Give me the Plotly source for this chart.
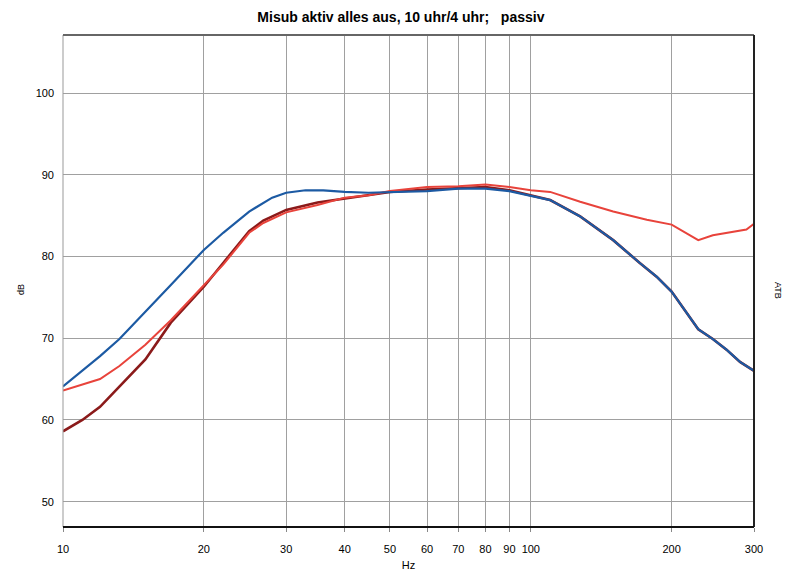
import plotly.graph_objects as go

# Blue curve
blue_f = [10, 11, 12, 13.2, 15, 17, 20, 22, 25, 28, 30, 33, 36, 40, 45, 50, 55, 60, 70, 80, 90, 100, 110, 127.5, 150, 171, 186, 200, 208, 215, 228, 245, 262, 280, 300]
blue_db = [64.1, 66.0, 67.8, 69.9, 73.2, 76.5, 80.8, 82.9, 85.5, 87.2, 87.8, 88.1, 88.1, 87.9, 87.8, 87.9, 87.9, 88.0, 88.3, 88.3, 88.0, 87.4, 86.9, 84.9, 82.0, 79.2, 77.5, 75.7, 74.3, 73.1, 71.1, 69.9, 68.6, 67.1, 66.0]

# Bright red curve
red_f = [10, 11, 12, 13.2, 15, 17, 20, 22, 25, 26.8, 30, 35, 40, 45, 50, 60, 70, 80, 90, 100, 110, 127.5, 150, 177, 200, 208, 228, 245, 271, 289, 300]
red_db = [63.6, 64.3, 65.0, 66.6, 69.2, 72.2, 76.5, 79.0, 82.9, 84.1, 85.4, 86.3, 87.2, 87.5, 88.0, 88.5, 88.6, 88.8, 88.5, 88.1, 87.9, 86.7, 85.5, 84.5, 83.9, 83.3, 82.0, 82.6, 83.0, 83.3, 84.0]

# Dark red curve
dark_f = [10, 11, 12, 13.2, 15, 17, 20, 22, 25, 26.8, 30, 35, 40, 50, 60, 70, 80, 90, 100, 110, 127.5, 150, 171, 186, 200, 208, 215, 228, 245, 262, 280, 300]
dark_db = [58.6, 60.0, 61.6, 64.1, 67.4, 71.9, 76.3, 79.2, 83.1, 84.4, 85.7, 86.6, 87.1, 87.9, 88.2, 88.4, 88.5, 88.1, 87.5, 86.9, 84.9, 82.0, 79.2, 77.5, 75.7, 74.3, 73.1, 71.1, 69.9, 68.6, 67.1, 66.0]

x_ticks = [10, 20, 30, 40, 50, 60, 70, 80, 90, 100, 200, 300]
y_ticks = [50, 60, 70, 80, 90, 100]

fig = go.Figure()
fig.add_trace(go.Scatter(x=dark_f, y=dark_db, mode="lines", line=dict(color="#8B1A1A", width=2.6), showlegend=False))
fig.add_trace(go.Scatter(x=red_f, y=red_db, mode="lines", line=dict(color="#E8433B", width=2), showlegend=False))
fig.add_trace(go.Scatter(x=blue_f, y=blue_db, mode="lines", line=dict(color="#1C5AA3", width=2.2), showlegend=False))

font = dict(family="Liberation Sans, Arial, sans-serif", size=11, color="#000")
H = 573

fig.update_layout(
    width=792, height=H,
    margin=dict(l=55, r=46, t=27, b=54),
    paper_bgcolor="white", plot_bgcolor="white",
    font=font,
    title=dict(text="<b>Misub aktiv alles aus, 10 uhr/4 uhr;\u00a0\u00a0\u00a0passiv</b>",
               x=0.489, xref="paper", xanchor="center", y=1 - 9 / H, yanchor="middle",
               font=dict(family="Liberation Sans, Arial, sans-serif", size=14, color="#000")),
    xaxis=dict(type="log", range=[1, 2.4771], tickvals=x_ticks, ticktext=[str(v) for v in x_ticks],
               showgrid=True, gridcolor="#A0A0A0", gridwidth=1, zeroline=False,
               ticks="outside", ticklen=4, tickcolor="#888", ticklabelstandoff=8,
               showline=False,
               title=dict(text="Hz", font=font, standoff=7)),
    yaxis=dict(range=[46.9, 107.1], tickvals=y_ticks, showgrid=True, gridcolor="#A0A0A0", gridwidth=1,
               zeroline=False, showline=False, ticks="", ticklabelstandoff=8),
    shapes=[
        dict(type="line", xref="paper", yref="paper", x0=0, x1=0, y0=0, y1=1, line=dict(color="#999", width=1)),
        dict(type="line", xref="paper", yref="paper", x0=0, x1=1, y0=1, y1=1, line=dict(color="#666", width=2)),
        dict(type="line", xref="paper", yref="paper", x0=1, x1=1, y0=0, y1=1, line=dict(color="#222", width=2)),
        dict(type="line", xref="paper", yref="paper", x0=0, x1=1, y0=0, y1=0, line=dict(color="#111", width=2)),
    ],
    annotations=[
        dict(text="dB", xref="paper", yref="paper", x=-49 / 691, y=(527 - 290) / 492, showarrow=False,
             textangle=-90, font=dict(family="Liberation Sans, Arial, sans-serif", size=9)),
        dict(text="ATB", xref="paper", yref="paper", x=1 + 31 / 691, y=(527 - 290) / 492, showarrow=False,
             textangle=90, font=dict(family="Liberation Sans, Arial, sans-serif", size=9)),
    ],
)

fig.write_html("out.html")
